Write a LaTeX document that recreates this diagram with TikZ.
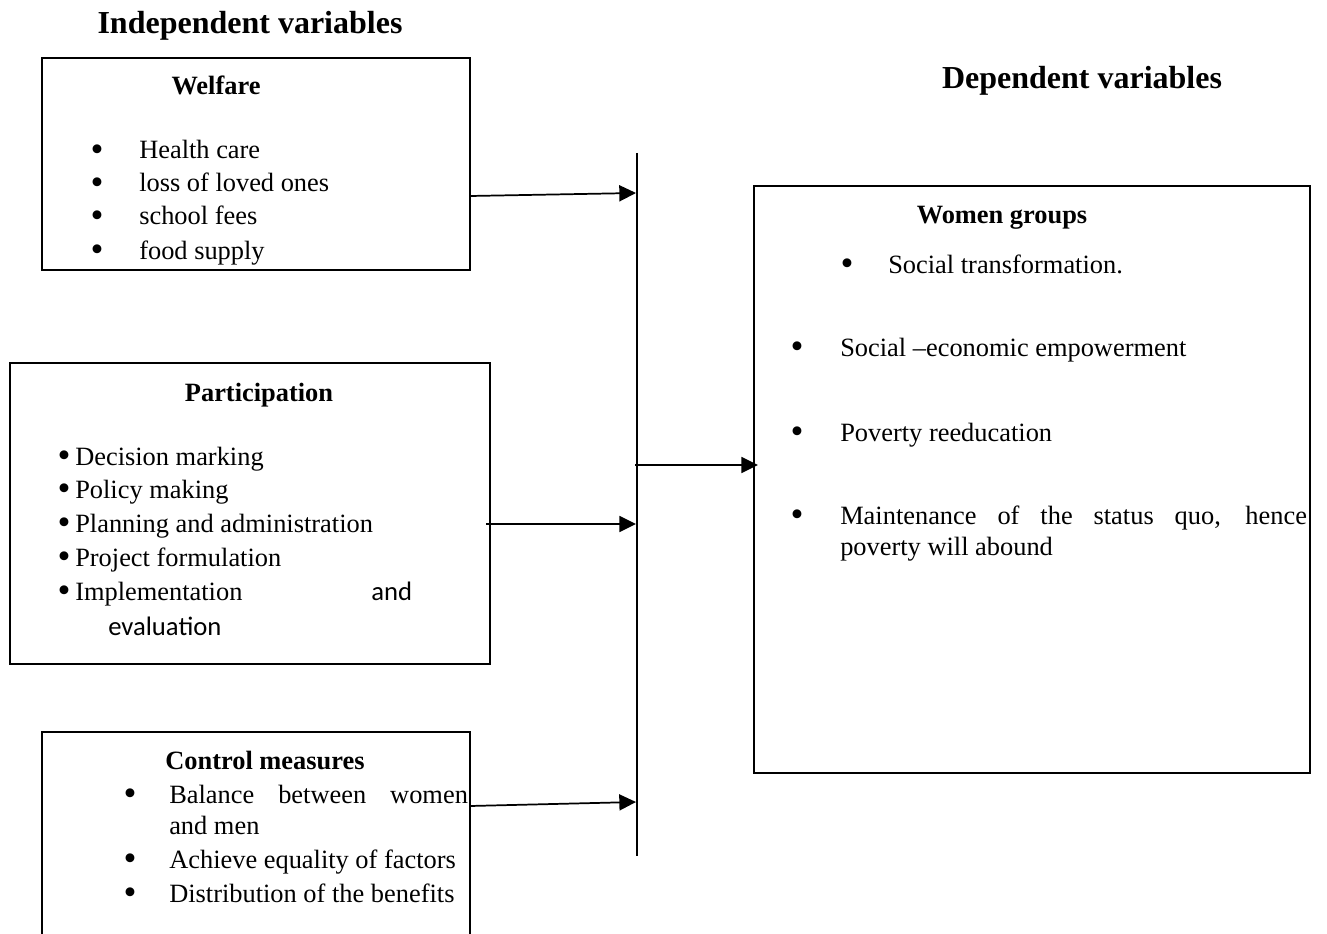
\documentclass[tikz,border=0pt]{standalone}
\usepackage{fontspec}
\setmainfont{Liberation Serif}
\newfontfamily\carlitofam{Carlito}
\usetikzlibrary{arrows.meta}
\newcommand{\bodyf}{\fontsize{19.8}{24}\selectfont}
\newcommand{\headf}{\fontsize{24}{28}\selectfont\bfseries}
\newcommand{\bigbul}{\smash{\scalebox{1.4}{\textbullet}}}
\begin{document}
\begin{tikzpicture}[x=0.75pt,y=-0.75pt,
  box/.style={draw,line width=1.1pt,inner sep=0pt},
  t/.style={anchor=base west,inner sep=0pt,font=\bodyf,yshift=-1.5pt},
  tc/.style={anchor=base,inner sep=0pt,font=\bodyf\bfseries,yshift=-1.5pt},
  bu/.style={anchor=base,inner sep=0pt,font=\bodyf,yshift=-9.4pt},
  hd/.style={anchor=base,inner sep=0pt,font=\headf,yshift=-1.5pt},
  conn/.style={line width=1.3pt},
  arr/.style={line width=1.3pt,-{Triangle[length=12.5pt,width=12pt]}}]
\useasboundingbox (0,0) rectangle (1327,934);
% headings
\node[hd] (indep) at (250,32) {Independent variables};
\node[hd] (dep) at (1082,87) {Dependent variables};
% welfare
\node[box,minimum width=321pt,minimum height=159pt] (welfare) at (256,164) {};
\node[tc] (wt) at (216,93) {Welfare};
\node[bu] (wb1) at (97,149) {\bigbul};
\node[bu] (wb2) at (97,182) {\bigbul};
\node[bu] (wb3) at (97,215) {\bigbul};
\node[bu] (wb4) at (97,249) {\bigbul};
\node[t] (w1) at (139,157) {Health care};
\node[t] (w2) at (139,190) {loss of loved ones};
\node[t] (w3) at (139,223) {school fees};
\node[t] (w4) at (139,257) {food supply};
% participation
\node[box,minimum width=360pt,minimum height=225.75pt] (part) at (250,513.5) {};
\node[tc] (pt) at (259,399) {Participation};
\node[bu] (pb1) at (64,455) {\bigbul};
\node[bu] (pb2) at (64,488) {\bigbul};
\node[bu] (pb3) at (64,522) {\bigbul};
\node[bu] (pb4) at (64,556) {\bigbul};
\node[bu] (pb5) at (64,590) {\bigbul};
\node[t] (p1) at (75,463) {Decision marking};
\node[t] (p2) at (75,496) {Policy making};
\node[t] (p3) at (75,530) {Planning and administration};
\node[t] (p4) at (75,564) {Project formulation};
\node[t] (p5) at (75,598) {Implementation};
\node[t,font=\carlitofam\fontsize{20}{24}\selectfont] (p5b) at (371,598) {and};
\node[t,font=\carlitofam\fontsize{20}{24}\selectfont] (p6) at (108,633) {evaluation};
% control measures (box runs off the bottom)
\coordinate (ctl) at (42,732);
\coordinate (ctr) at (470,732);
\coordinate (cbl) at (42,934);
\coordinate (cbr) at (470,934);
\draw[line width=1.1pt] (cbl) -- (ctl) -- (ctr) -- (cbr);
\node[tc] (ct) at (265,767) {Control measures};
\node[bu] (cb1) at (130,793) {\bigbul};
\node[bu] (cb2) at (130,858) {\bigbul};
\node[bu] (cb3) at (130,892) {\bigbul};
\node[t] (c1) at (169,801) {\makebox[224pt][s]{Balance between women}};
\node[t] (c1b) at (169,832) {and men};
\node[t] (c2) at (169,866) {Achieve equality of factors};
\node[t] (c3) at (169,900) {Distribution of the benefits};
% women groups
\node[box,minimum width=417pt,minimum height=440.25pt] (women) at (1032,479.5) {};
\node[tc] (gt) at (1002,222) {Women groups};
\node[bu] (gb1) at (847,263) {\bigbul};
\node[bu] (gb2) at (797,346) {\bigbul};
\node[bu] (gb3) at (797,431) {\bigbul};
\node[bu] (gb4) at (797,514) {\bigbul};
\node[t] (g1) at (888,271) {Social transformation.};
\node[t] (g2) at (840,354) {Social \textendash economic empowerment};
\node[t] (g3) at (840,439) {Poverty reeducation};
\node[t] (g4) at (840,522) {\makebox[350pt][s]{Maintenance of the status quo, hence}};
\node[t] (g4b) at (840,553) {poverty will abound};
% vertical bar
\coordinate (vtop) at (637,153);
\coordinate (vbot) at (637,856);
\draw[conn] (vtop) -- (vbot);
% arrows
\coordinate (a1s) at (470,196);
\coordinate (a1e) at (636,193);
\coordinate (a2s) at (486,524);
\coordinate (a2e) at (636,524);
\coordinate (a3s) at (470,806);
\coordinate (a3e) at (636,802);
\coordinate (a4s) at (635,465);
\coordinate (a4e) at (758,465);
\draw[arr] (a1s) -- (a1e);
\draw[arr] (a2s) -- (a2e);
\draw[arr] (a3s) -- (a3e);
\draw[arr] (a4s) -- (a4e);
\end{tikzpicture}
\end{document}
